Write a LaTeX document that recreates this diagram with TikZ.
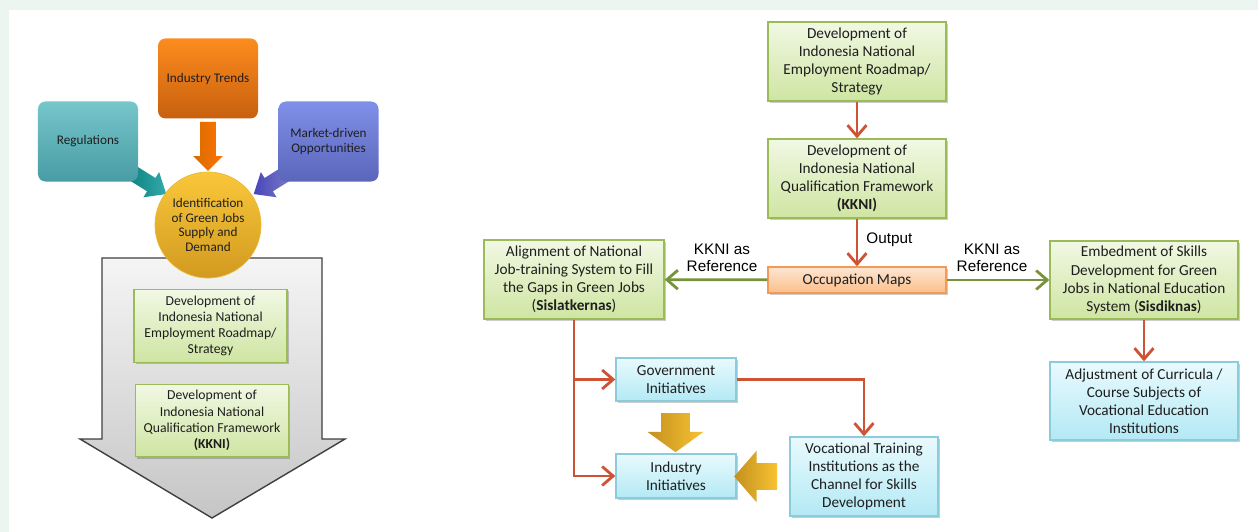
\documentclass[tikz,border=0pt]{standalone}
\usepackage{fontspec}
\setmainfont{Carlito}
\newfontfamily\labelfont{Liberation Sans}
\usetikzlibrary{arrows.meta,shapes.arrows,shadows}
\definecolor{mintbg}{HTML}{EDF5F0}
\definecolor{txt}{HTML}{1E1E1E}
\definecolor{greentop}{HTML}{F1F8E4}
\definecolor{greenbot}{HTML}{CFE5A2}
\definecolor{greenline}{HTML}{9BBB59}
\definecolor{cyantop}{HTML}{E9FAFD}
\definecolor{cyanbot}{HTML}{B3E9F5}
\definecolor{cyanline}{HTML}{8CCBDB}
\definecolor{orgtop}{HTML}{FDE6D3}
\definecolor{orgbot}{HTML}{FBBE8A}
\definecolor{orgline}{HTML}{F39A55}
\definecolor{redline}{HTML}{CD5334}
\definecolor{arrgreen}{HTML}{77933C}
\definecolor{golddark}{HTML}{C3901F}
\definecolor{goldlight}{HTML}{F8C232}
\tikzset{
    boxbase/.style={align=center,inner sep=1pt,text=txt,line width=0.8pt,
        drop shadow={shadow xshift=0.35mm,shadow yshift=-0.35mm,opacity=0.2,fill=black}},
    greenbox/.style={boxbase,draw=greenline,top color=greentop,bottom color=greenbot,
        font=\fontsize{8.7}{10.3}\selectfont,minimum width=35.6mm,minimum height=15.8mm},
    smallgreen/.style={greenbox,font=\fontsize{7.8}{9.2}\selectfont,minimum width=30.6mm,minimum height=14.5mm},
    cyanbox/.style={boxbase,draw=cyanline,top color=cyantop,bottom color=cyanbot,
        font=\fontsize{8.7}{10.3}\selectfont},
    orgbox/.style={boxbase,draw=orgline,top color=orgtop,bottom color=orgbot,
        font=\fontsize{8.7}{10.3}\selectfont,minimum width=35.6mm,minimum height=5.2mm},
    cornerbox/.style={align=center,inner sep=1pt,text=txt,rounded corners=1.5mm,
        font=\fontsize{7.5}{8.6}\selectfont,minimum width=20mm,minimum height=16mm},
    blockarrow/.style={single arrow,inner xsep=0pt,draw=none},
    reflabel/.style={align=center,inner sep=0pt,font=\labelfont\fontsize{8.7}{9.8}\selectfont},
    redarrow/.style={draw=redline,line width=1.6pt,-{Straight Barb[length=2.2mm,width=3.8mm]}},
    greenarrow/.style={draw=arrgreen,line width=1.6pt,-{Straight Barb[length=2.2mm,width=3.8mm]}}
}
\begin{document}
\begin{tikzpicture}[x=0.2mm,y=-0.2mm]
    \useasboundingbox (0,0) rectangle (1258,532);
    \fill[mintbg] (0,0) rectangle (1258,532);
    \fill[white] (9,10) rectangle (1258,532);

    \shade[top color=gray!8,bottom color=gray!45,draw=black!75,line width=0.8pt]
        (102,258) -- (322,258) -- (322,439) -- (345,439) -- (212,518) -- (80,439) -- (102,439) -- cycle;

    \node[blockarrow,inner ysep=1.5mm,minimum height=11mm,single arrow head extend=1.4mm,
        single arrow tip angle=80,rotate=-32,left color=teal!70!cyan!70!black,right color=teal!45!cyan!60!gray] (regarr) at (139,177) {};
    \node[blockarrow,inner ysep=1.5mm,minimum height=11mm,single arrow head extend=1.4mm,
        single arrow tip angle=80,rotate=-148,left color=blue!45!gray,right color=blue!40!white!60!gray] (mktarr) at (281,177) {};
    \node[blockarrow,inner ysep=1.5mm,minimum height=9.8mm,single arrow head extend=1.4mm,
        single arrow tip angle=90,rotate=-90,left color=orange!85!black,right color=orange!90!red] (trendarr) at (208,142.5) {};

    \node[cornerbox,top color={rgb,255:red,118;green,198;blue,203},bottom color={rgb,255:red,72;green,156;blue,164}] (reg) at (88,141.5) {Regulations};
    \node[cornerbox,top color={rgb,255:red,252;green,140;blue,30},bottom color={rgb,255:red,200;green,96;blue,14}] (trend) at (208,78.5) {Industry Trends};
    \node[cornerbox,top color={rgb,255:red,128;green,143;blue,232},bottom color={rgb,255:red,90;green,102;blue,186}] (market) at (328.5,141.5) {Market-driven\\Opportunities};

    \node[circle,minimum size=21.2mm,inner sep=0pt,align=center,text=txt,draw={rgb,255:red,236;green,184;blue,50},
        top color={rgb,255:red,249;green,199;blue,58},bottom color={rgb,255:red,210;green,154;blue,32},
        font=\fontsize{7.5}{8.4}\selectfont] (ident) at (208,225) {Identification\\of Green Jobs\\Supply and\\Demand};

    \node[smallgreen] (ldev) at (210.5,326) {Development of\\Indonesia National\\Employment Roadmap/\\Strategy};
    \node[smallgreen] (lkkni) at (212,420.5) {Development of\\Indonesia National\\Qualification Framework\\\textbf{(KKNI)}};

    \node[greenbox] (dev) at (857,61.5) {Development of\\Indonesia National\\Employment Roadmap/\\Strategy};
    \node[greenbox] (kkni) at (857,178.5) {Development of\\Indonesia National\\Qualification Framework\\\textbf{(KKNI)}};
    \node[orgbox] (occ) at (857,280) {Occupation Maps};
    \node[greenbox,minimum width=36mm] (sisl) at (574,279.5) {Alignment of National\\Job-training System to Fill\\the Gaps in Green Jobs\\(\textbf{Sislatkernas})};
    \node[greenbox,minimum width=37.6mm,minimum height=15.6mm] (sisd) at (1144,280) {Embedment of Skills\\Development for Green\\Jobs in National Education\\System (\textbf{Sisdiknas})};
    \node[cyanbox,minimum width=37.6mm,minimum height=15.6mm] (adj) at (1144,401) {Adjustment of Curricula /\\Course Subjects of\\Vocational Education\\Institutions};
    \node[cyanbox,minimum width=24mm,minimum height=8.6mm] (gov) at (676,379.5) {Government\\Initiatives};
    \node[cyanbox,minimum width=24mm,minimum height=8.8mm] (ind) at (676,476) {Industry\\Initiatives};
    \node[cyanbox,minimum width=29.6mm,minimum height=15.8mm] (voc) at (864,476.5) {Vocational Training\\Institutions as the\\Channel for Skills\\Development};

    \node[blockarrow,inner ysep=2.8mm,minimum height=7.8mm,single arrow head extend=2.7mm,
        single arrow tip angle=108,rotate=-90,left color=golddark,right color=goldlight] (garrd) at (675.5,427.5) {};
    \node[blockarrow,inner ysep=2.6mm,minimum height=8.6mm,single arrow head extend=2.5mm,
        single arrow tip angle=98,rotate=180,left color=golddark,right color=goldlight] (garrl) at (761.5,476.5) {};

    \node[reflabel] (refl) at (722,258) {KKNI as\\Reference};
    \node[reflabel] (refr) at (992,258) {KKNI as\\Reference};
    \node[reflabel,anchor=west] (out) at (866,240) {Output};

    \draw[redarrow] (dev) -- (kkni);
    \draw[redarrow] (kkni) -- (occ);
    \draw[redarrow] (sisd) -- (adj);
    \draw[greenarrow] (occ) -- (sisl);
    \draw[greenarrow] (occ) -- (sisd);
    \draw[redarrow] (sisl.south) |- (gov.west);
    \draw[redarrow] (sisl.south) |- (ind.west);
    \draw[redarrow] (gov.east) -| (voc.north);
\end{tikzpicture}
\end{document}
